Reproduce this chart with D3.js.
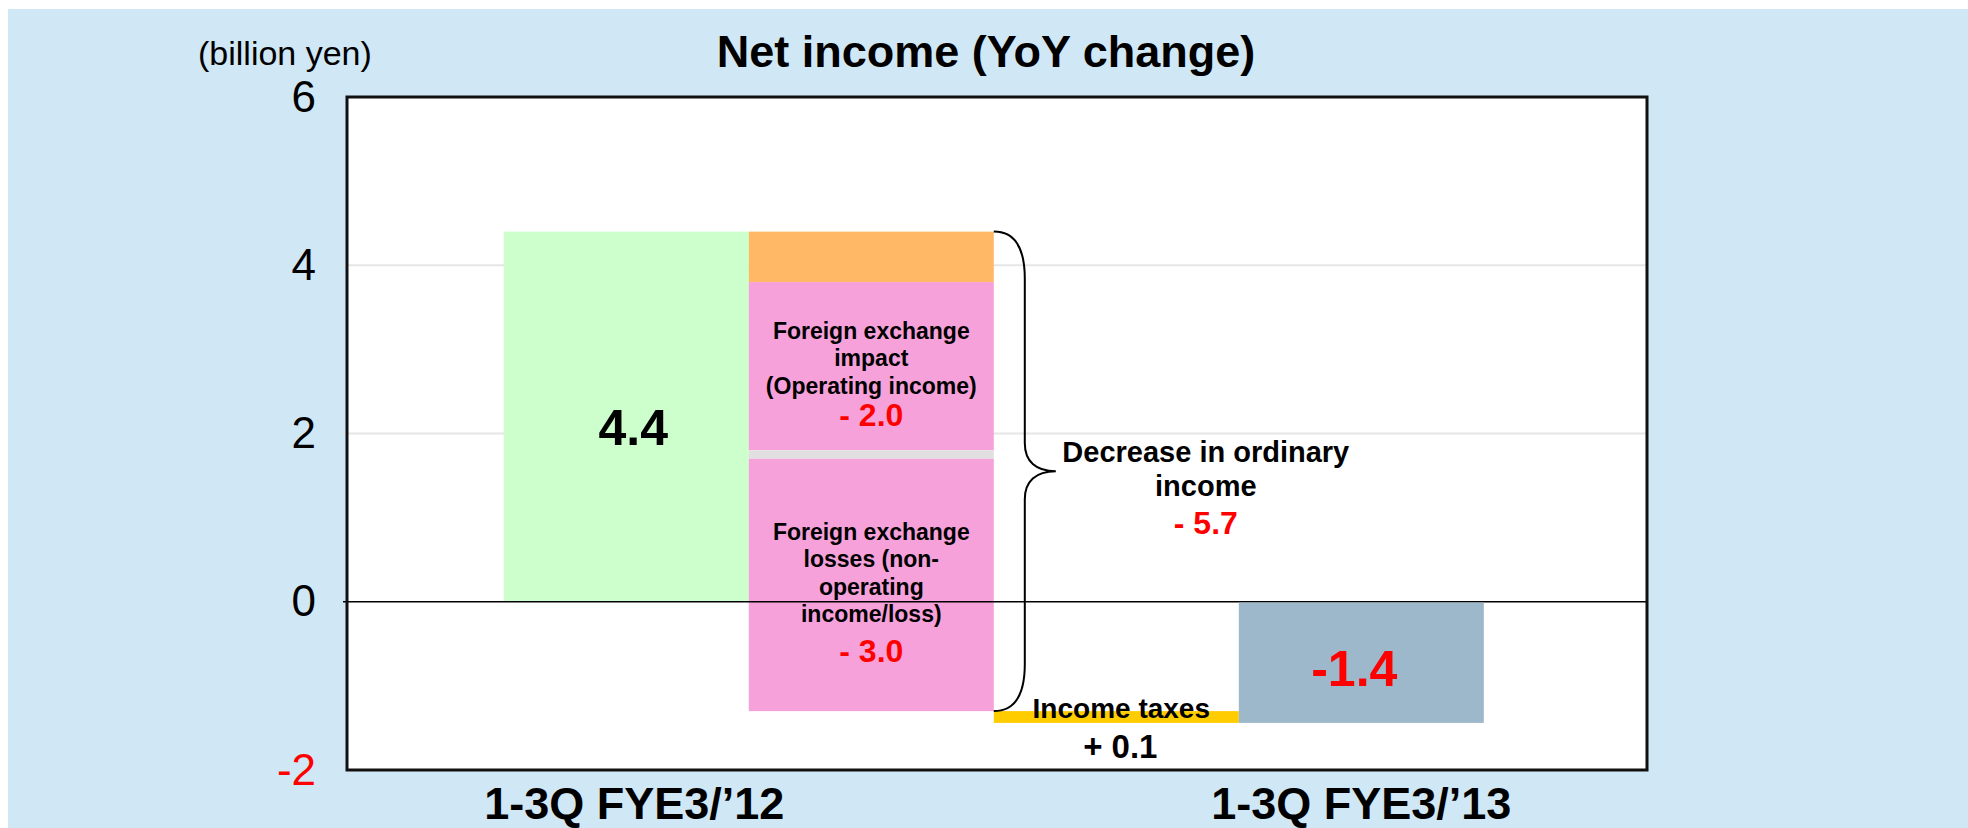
<!DOCTYPE html>
<html>
<head>
<meta charset="utf-8">
<script src="https://cdn.jsdelivr.net/npm/d3@7"></script>
<style>
  body { margin: 0; background: #fff; }
  text { font-family: "Liberation Sans", Arial, sans-serif; }
</style>
</head>
<body>
<div id="chart"></div>
<script>
// columns of the waterfall
const columns = ["1-3Q FYE3/’12", "ordinary", "taxes", "1-3Q FYE3/’13"];
const axisLabels = ["1-3Q FYE3/’12", "1-3Q FYE3/’13"];

// segments, drawn one after another from 0
const segNames = ["Net income", "Other", "Foreign exchange impact", "Other non-operating", "Foreign exchange losses", "Income taxes"];
const segColumn = [0, 1, 1, 1, 1, 2];
const segDelta = [4.4, -0.6, -2.0, -0.1, -3.0, -0.14];
const segColors = ["#CCFFCC", "#FFB866", "#F7A1DA", "#E0E0E0", "#F7A1DA", "#FFCC00"];

const totalValue = -1.44;
const ordinaryDecrease = -5.7;
const incomeTaxChange = 0.14;
const yTicks = [-2, 0, 2, 4, 6];

const fxOpLines = ["Foreign exchange", "impact", "(Operating income)"];
const fxNonOpLines = ["Foreign exchange", "losses (non-", "operating", "income/loss)"];
const ordinaryLines = ["Decrease in ordinary", "income"];

const w = 1968;
const h = 828;
const frame = {left: 347, top: 97, right: 1647, bottom: 770};

const svg = d3.select('#chart').append("svg")
              .attr("width", w)
              .attr("height", h);

svg.append("rect")
   .attr("x", 8).attr("y", 9)
   .attr("width", w - 8).attr("height", h - 9)
   .attr("fill", "#D0E7F5");

const x = d3.scaleBand()
            .domain(columns)
            .range([frame.left, frame.right])
            .paddingInner(0)
            .paddingOuter(0.653)
            .align(0.49);

const y = d3.scaleLinear()
            .domain([-2, 6])
            .range([frame.bottom, frame.top]);

svg.append("rect")
   .attr("x", frame.left).attr("y", frame.top)
   .attr("width", frame.right - frame.left)
   .attr("height", frame.bottom - frame.top)
   .attr("fill", "#fff");

// grid lines
svg.selectAll("line.grid")
   .data(yTicks.filter(d => d > -2 && d < 6 && d !== 0))
   .enter()
   .append("line")
   .attr("class", "grid")
   .attr("x1", frame.left - 4)
   .attr("x2", frame.right)
   .attr("y1", d => y(d))
   .attr("y2", d => y(d))
   .attr("stroke", "#E6E6E6")
   .attr("stroke-width", 2);

// running totals for the waterfall
let run = 0;
const segs = segDelta.map((d, i) => {
    const s = {name: segNames[i], col: columns[segColumn[i]], from: run, to: run + d, color: segColors[i]};
    run += d;
    return s;
});

svg.selectAll("rect.seg")
   .data(segs)
   .enter()
   .append("rect")
   .attr("class", "seg")
   .attr("x", d => x(d.col))
   .attr("width", x.bandwidth())
   .attr("y", d => y(Math.max(d.from, d.to)))
   .attr("height", d => Math.abs(y(d.from) - y(d.to)))
   .attr("fill", d => d.color);

// zero line
svg.append("line")
   .attr("x1", frame.left - 4).attr("x2", frame.right)
   .attr("y1", y(0)).attr("y2", y(0))
   .attr("stroke", "#000").attr("stroke-width", 1.5);

// net income of this year, hangs below the zero line
svg.append("rect")
   .attr("x", x(columns[3]))
   .attr("width", x.bandwidth())
   .attr("y", y(0) + 0.8)
   .attr("height", y(totalValue) - y(0) - 0.8)
   .attr("fill", "#9EB8CB");

// frame
svg.append("rect")
   .attr("x", frame.left).attr("y", frame.top)
   .attr("width", frame.right - frame.left)
   .attr("height", frame.bottom - frame.top)
   .attr("fill", "none")
   .attr("stroke", "#111")
   .attr("stroke-width", 3);

// y axis labels
const yAxis = svg.append("g")
   .attr("transform", `translate(${frame.left},0)`)
   .call(d3.axisLeft(y).tickValues(yTicks).tickSize(0).tickPadding(31).tickFormat(d => String(d)));
yAxis.select(".domain").remove();
yAxis.selectAll("text")
     .style("font-family", '"Liberation Sans", Arial, sans-serif')
     .style("font-size", "44px")
     .attr("fill", d => d < 0 ? "#FF0000" : "#000");

svg.append("text")
   .attr("x", 198).attr("y", 65)
   .style("font-size", "34px")
   .text("(billion yen)");

svg.append("text")
   .attr("x", 986).attr("y", 67)
   .attr("text-anchor", "middle")
   .style("font-size", "45px").style("font-weight", "bold")
   .text("Net income (YoY change)");

const labelShift = [8, 0];
svg.selectAll("text.xlab")
   .data(axisLabels)
   .enter()
   .append("text")
   .attr("class", "xlab")
   .attr("x", (d, i) => x(d) + x.bandwidth() / 2 + labelShift[i])
   .attr("y", 819)
   .attr("text-anchor", "middle")
   .style("font-size", "45px").style("font-weight", "bold")
   .text(d => d);

const fmtSigned = v => (v < 0 ? "- " : "+ ") + Math.abs(v).toFixed(1);
const bandMid = c => x(c) + x.bandwidth() / 2;
const segMid = s => (y(s.from) + y(s.to)) / 2;

// value labels in the start and end bars
svg.append("text")
   .attr("x", bandMid(segs[0].col) + 7)
   .attr("y", segMid(segs[0]) + 28)
   .attr("text-anchor", "middle")
   .style("font-size", "50px").style("font-weight", "bold")
   .text(segDelta[0].toFixed(1));

svg.append("text")
   .attr("x", bandMid(columns[3]) - 7)
   .attr("y", (y(0) + y(totalValue)) / 2 + 24)
   .attr("text-anchor", "middle")
   .attr("fill", "#FF0000")
   .style("font-size", "50px").style("font-weight", "bold")
   .text(totalValue.toFixed(1));

// notes in the pink segments
const note = (s, lines, value, redGap) => {
    const span = (lines.length - 1) * 27.5 + redGap;
    const first = segMid(s) + 16 - span / 2;
    const g = svg.append("g").attr("text-anchor", "middle");
    lines.forEach((l, i) => {
        g.append("text")
         .attr("x", bandMid(s.col))
         .attr("y", first + i * 27.5)
         .style("font-size", "23px").style("font-weight", "bold")
         .text(l);
    });
    g.append("text")
     .attr("x", bandMid(s.col))
     .attr("y", first + span)
     .attr("fill", "#FF0000")
     .style("font-size", "32px").style("font-weight", "bold")
     .text(fmtSigned(value));
};
note(segs[2], fxOpLines, segDelta[2], 32);
note(segs[4], fxNonOpLines, segDelta[4], 40);

// curly bracket over the ordinary income decrease
const bx = x(columns[1]) + x.bandwidth();
const yTop = y(segs[1].from);
const yBot = y(segs[4].to);
const yMid = (yTop + yBot) / 2;
const p = d3.path();
p.moveTo(bx, yTop);
p.bezierCurveTo(bx + 22, yTop, bx + 31, yTop + 17, bx + 31, yTop + 47);
p.lineTo(bx + 31, yMid - 28);
p.bezierCurveTo(bx + 31, yMid - 10, bx + 42, yMid, bx + 62, yMid);
p.bezierCurveTo(bx + 42, yMid, bx + 31, yMid + 10, bx + 31, yMid + 28);
p.lineTo(bx + 31, yBot - 47);
p.bezierCurveTo(bx + 31, yBot - 17, bx + 22, yBot, bx, yBot);
svg.append("path")
   .attr("d", p.toString())
   .attr("fill", "none")
   .attr("stroke", "#000")
   .attr("stroke-width", 2);

const ord = svg.append("g").attr("text-anchor", "middle");
ordinaryLines.forEach((l, i) => {
    ord.append("text")
       .attr("x", bx + 212)
       .attr("y", yMid - 9 + i * 34)
       .style("font-size", "29px").style("font-weight", "bold")
       .text(l);
});
ord.append("text")
   .attr("x", bx + 212)
   .attr("y", yMid + 63)
   .attr("fill", "#FF0000")
   .style("font-size", "32px").style("font-weight", "bold")
   .text(fmtSigned(ordinaryDecrease));

// income taxes
const tax = segs[5];
svg.append("text")
   .attr("x", bandMid(tax.col) + 5)
   .attr("y", y(tax.to) - 5)
   .attr("text-anchor", "middle")
   .style("font-size", "28px").style("font-weight", "bold")
   .text("Income taxes");
svg.append("text")
   .attr("x", bandMid(tax.col) + 4)
   .attr("y", y(tax.to) + 35)
   .attr("text-anchor", "middle")
   .style("font-size", "33px").style("font-weight", "bold")
   .text(fmtSigned(incomeTaxChange));
</script>
</body>
</html>
